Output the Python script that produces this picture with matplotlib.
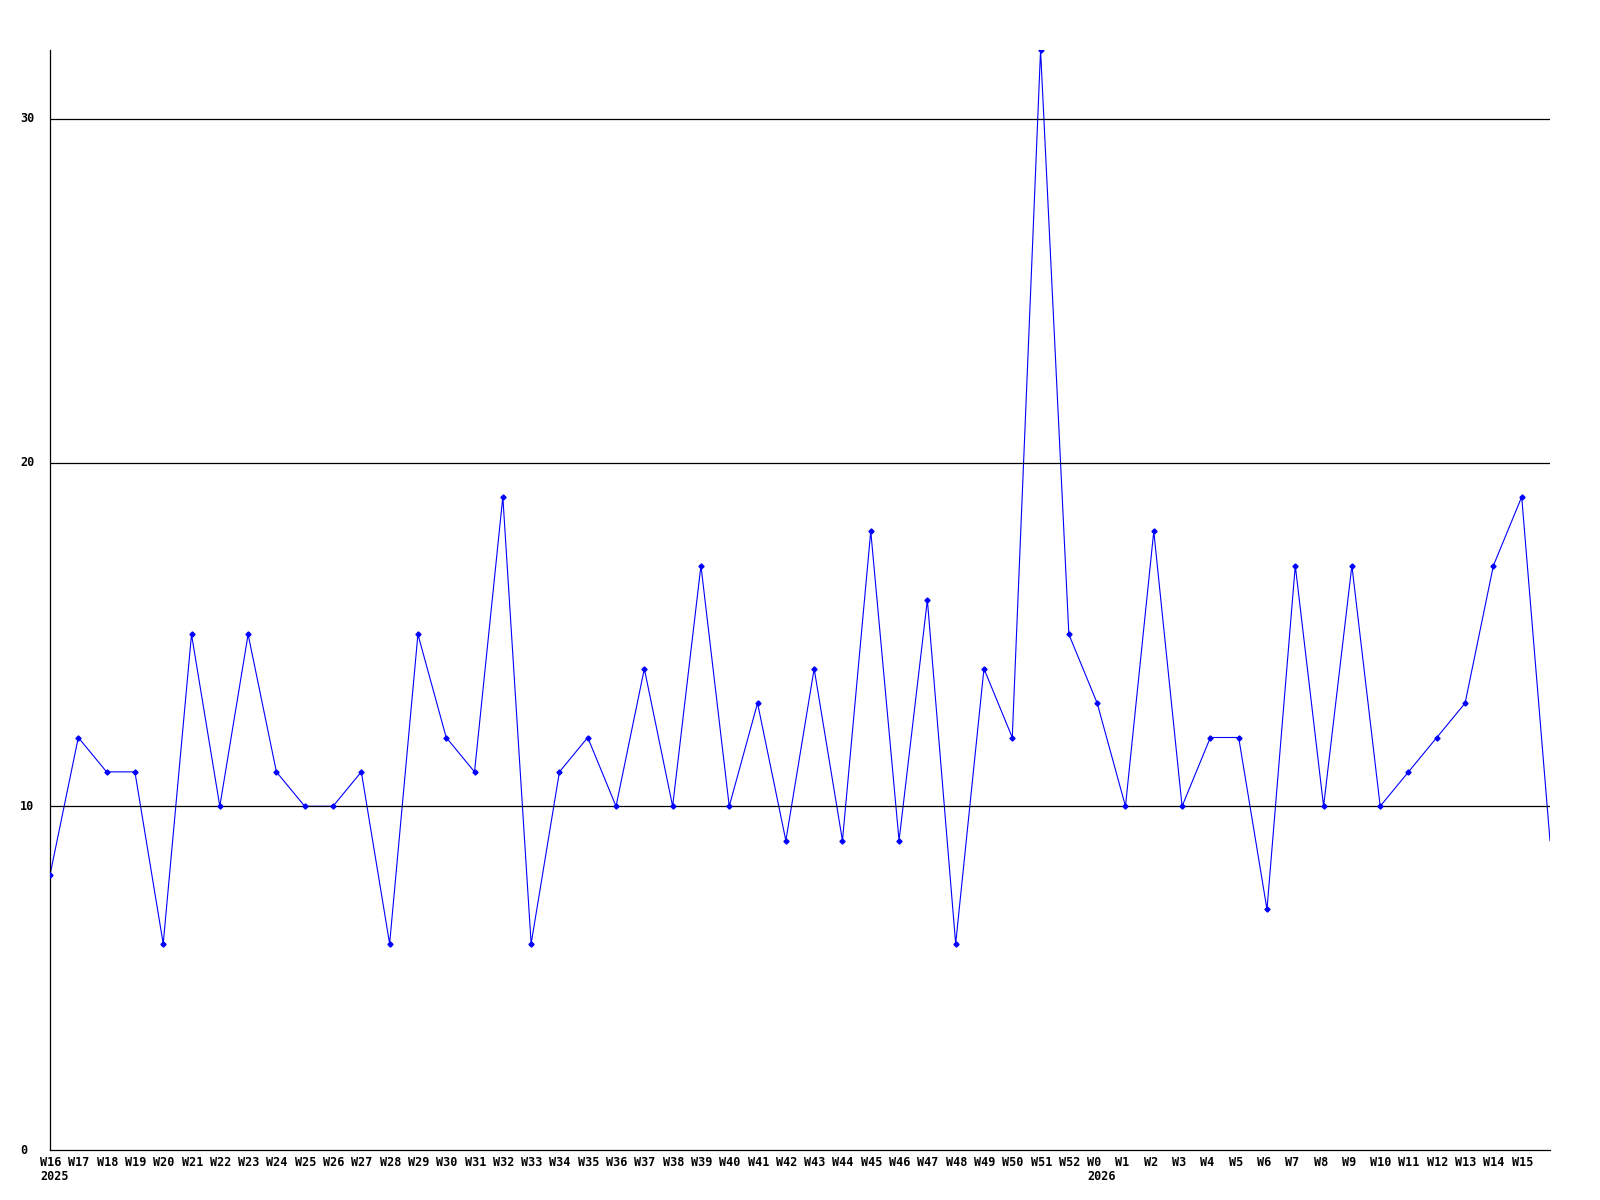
import matplotlib
matplotlib.use('Agg')
import matplotlib.pyplot as plt
from matplotlib.transforms import offset_copy

# weekly counts, W16 2025 .. W15 2026, plus the running (unlabelled) week
week_labels = ['W%d' % w for w in range(16, 53)] + ['W%d' % w for w in range(0, 16)]
counts = [8, 12, 11, 11, 6, 15, 10, 15, 11, 10,
          10, 11, 6, 15, 12, 11, 19, 6, 11, 12,
          10, 14, 10, 17, 10, 13, 9, 14, 9, 18,
          9, 16, 6, 14, 12, 32, 15, 13, 10, 18,
          10, 12, 12, 7, 17, 10, 17, 10, 11, 12,
          13, 17, 19, 9]
year_labels = {0: '2025', 37: '2026'}
y_ticks = [0, 10, 20, 30]

fig = plt.figure(figsize=(16, 12), dpi=100)
ax = fig.add_axes([50 / 1600, 50 / 1200, 1500 / 1600, 1100 / 1200])

x = list(range(len(counts)))
ax.plot(x, counts, color='#0000ff', lw=0.8, zorder=2)
ax.plot(x[:-1], counts[:-1], ls='none', marker='D', ms=2.6, color='#0000ff',
        mec='#0000ff', zorder=4)
for v in y_ticks[1:]:
    ax.axhline(v, color='black', lw=0.9, zorder=3)

ax.set_xlim(0, len(counts) - 1)
ax.set_ylim(0, 32)
for s in ['top', 'right']:
    ax.spines[s].set_visible(False)
for s in ['left', 'bottom']:
    ax.spines[s].set_linewidth(0.9)
ax.set_xticks([])
ax.set_yticks([])

font = dict(family='DejaVu Sans Mono', weight='bold', fontsize=8.5)
xt = offset_copy(ax.get_xaxis_transform(), fig=fig, x=-10, y=-12, units='dots')
yt = offset_copy(ax.get_xaxis_transform(), fig=fig, x=-10, y=-27, units='dots')
for i, lab in enumerate(week_labels):
    ax.text(i, 0, lab, transform=xt, ha='left', va='center', **font)
for i, lab in year_labels.items():
    ax.text(i, 0, lab, transform=yt, ha='left', va='center', **font)
for v in y_ticks:
    ax.text(20 / 1600, ax.transData.transform((0, v))[1] / 1200, str(v),
            transform=fig.transFigure, ha='left', va='center', **font)

fig.savefig('out.png', dpi=100)
